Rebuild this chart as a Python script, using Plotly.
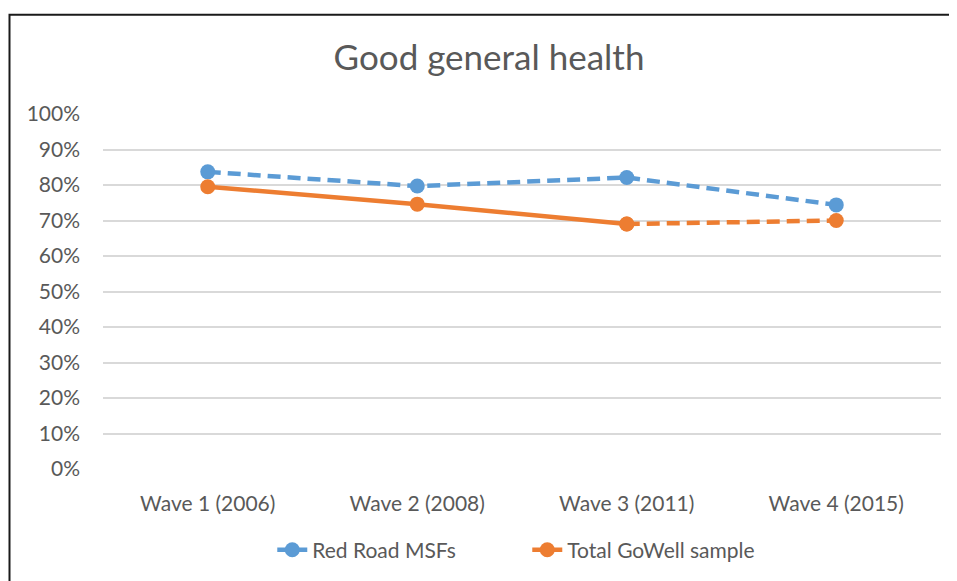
import plotly.graph_objects as go

waves = ['Wave 1 (2006)', 'Wave 2 (2008)', 'Wave 3 (2011)', 'Wave 4 (2015)']
red_road = [0.837, 0.797, 0.821, 0.744]
gowell = [0.795, 0.746, 0.690, 0.700]
y_ticks = [0, 0.1, 0.2, 0.3, 0.4, 0.5, 0.6, 0.7, 0.8, 0.9, 1.0]

BLUE = '#5B9BD5'
ORANGE = '#ED7D31'
GREY = '#595959'
FONT = 'Lato'

fig = go.Figure()

fig.add_trace(go.Scatter(x=waves, y=red_road, name='Red Road MSFs',
                         mode='lines+markers',
                         line=dict(color=BLUE, width=4.5, dash='13px,7px'),
                         marker=dict(size=15, color=BLUE)))

# solid for the first three waves, dashed for the last segment
fig.add_trace(go.Scatter(x=waves[:3], y=gowell[:3], name='Total GoWell sample',
                         mode='lines+markers',
                         line=dict(color=ORANGE, width=4.5),
                         marker=dict(size=15, color=ORANGE)))
fig.add_trace(go.Scatter(x=waves[2:], y=gowell[2:], showlegend=False,
                         mode='lines+markers',
                         line=dict(color=ORANGE, width=4.5, dash='13px,7px'),
                         marker=dict(size=15, color=ORANGE)))

# the page body has an 8px margin, so the figure is a bit smaller than the window
fig.update_layout(
    width=949, height=573,
    margin=dict(l=95, r=16, t=106, b=111),
    paper_bgcolor='white', plot_bgcolor='white',
    font=dict(family=FONT, color=GREY, size=21),
    title=dict(text='Good general health', x=481 / 949, xanchor='center',
               y=1 - 50 / 573, yanchor='middle',
               font=dict(family=FONT, size=35, color=GREY)),
    legend=dict(orientation='h', x=0.202, xanchor='left', y=-0.225,
                yanchor='middle', font=dict(size=21, color=GREY),
                entrywidth=210, entrywidthmode='pixels'),
    showlegend=True,
)

fig.update_xaxes(range=[-0.5, 3.5], showgrid=False, showline=False,
                 ticks='', ticklabelstandoff=20,
                 tickfont=dict(size=21, color=GREY))
fig.update_yaxes(range=[0, 1], tickvals=y_ticks, tickformat='.0%',
                 showgrid=True, gridcolor='#D9D9D9', gridwidth=1.5,
                 zeroline=False, ticks='', ticklabelstandoff=22,
                 tickfont=dict(size=21, color=GREY))

# chart frame (only left and top edges are inside the picture)
fig.add_shape(type='rect', xref='paper', yref='paper',
              x0=(9.5 - 103) / 838, x1=(975 - 103) / 838,
              y0=(470 - 600) / 356, y1=(470 - 14.5) / 356,
              line=dict(color='#1a1a1a', width=2), layer='below')

fig.write_html('out.html')
